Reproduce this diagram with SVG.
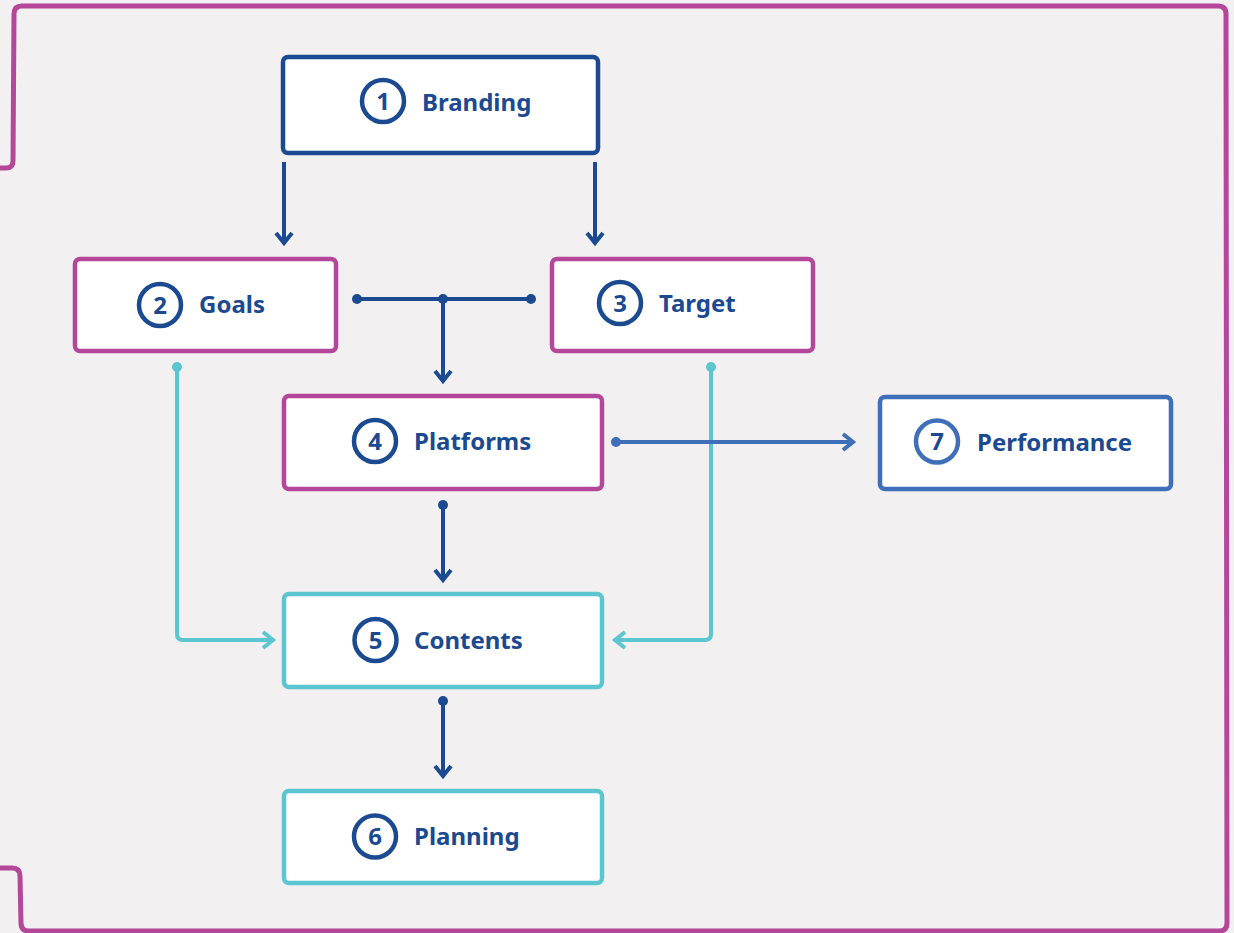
<svg xmlns="http://www.w3.org/2000/svg" width="1234" height="933" viewBox="0 0 1234 933">
<style>
.bg{fill:#f2f0f1}
.frame{fill:none;stroke:#b4479a;stroke-width:5;stroke-linejoin:round}
.box{fill:#ffffff;stroke-width:4.5}
.dark{stroke:#1b4a91}
.mag{stroke:#b4479a}
.cyan{stroke:#5bc6d0}
.mid{stroke:#3f6fb8}
.num{fill:none;stroke-width:4.5}
.lbl{font-family:"Noto Sans","Open Sans",sans-serif;font-weight:700;font-size:24px;fill:#1b4a91}
.nt{text-anchor:middle}
.ln{fill:none;stroke-width:4}
</style>
<defs>
<marker id="aDark" markerUnits="userSpaceOnUse" markerWidth="20" markerHeight="24" viewBox="0 0 20 24" refX="15" refY="12" orient="auto">
<path d="M4,4 L14,12 L4,20" fill="none" stroke="#1b4a91" stroke-width="4" stroke-linejoin="miter"/>
</marker>
<marker id="aCyan" markerUnits="userSpaceOnUse" markerWidth="20" markerHeight="24" viewBox="0 0 20 24" refX="15" refY="12" orient="auto">
<path d="M4,4 L14,12 L4,20" fill="none" stroke="#5bc6d0" stroke-width="4" stroke-linejoin="miter"/>
</marker>
<marker id="aMid" markerUnits="userSpaceOnUse" markerWidth="20" markerHeight="24" viewBox="0 0 20 24" refX="15" refY="12" orient="auto">
<path d="M4,4 L14,12 L4,20" fill="none" stroke="#3f6fb8" stroke-width="4" stroke-linejoin="miter"/>
</marker>
</defs>
<rect class="bg" x="0" y="0" width="1234" height="933"/>
<path class="frame" d="M0,168 L6,168 Q13,168 13,161 L14,14 Q14,6 22,6 L1218,6 Q1226,6 1226,14 L1227,923 Q1227,931 1219,931 L29,931 Q21,931 21,923 L20,876 Q20,868 12,868 L0,868"/>

<g id="connectors">
<line class="ln dark" x1="284" y1="162" x2="284" y2="244" marker-end="url(#aDark)"/>
<line class="ln dark" x1="595" y1="162" x2="595" y2="244" marker-end="url(#aDark)"/>
<line class="ln dark" x1="357" y1="299" x2="531" y2="299"/>
<line class="ln dark" x1="443" y1="299" x2="443" y2="382" marker-end="url(#aDark)"/>
<circle cx="357" cy="299" r="5" fill="#1b4a91"/>
<circle cx="531" cy="299" r="5" fill="#1b4a91"/>
<circle cx="443" cy="299" r="5" fill="#1b4a91"/>
<path class="ln cyan" d="M177,367 L177,634 Q177,640 183,640 L274,640" marker-end="url(#aCyan)" stroke-linejoin="round"/>
<circle cx="177" cy="367" r="5" fill="#5bc6d0"/>
<path class="ln cyan" d="M711,367 L711,634 Q711,640 705,640 L614,640" marker-end="url(#aCyan)"/>
<circle cx="711" cy="367" r="5" fill="#5bc6d0"/>
<line class="ln mid" x1="616" y1="442" x2="854" y2="442" marker-end="url(#aMid)"/>
<circle cx="616" cy="442" r="5" fill="#3f6fb8"/>
<line class="ln dark" x1="443" y1="505" x2="443" y2="581" marker-end="url(#aDark)"/>
<circle cx="443" cy="505" r="5" fill="#1b4a91"/>
<line class="ln dark" x1="443" y1="701" x2="443" y2="777" marker-end="url(#aDark)"/>
<circle cx="443" cy="701" r="5" fill="#1b4a91"/>
</g>

<g id="node1">
<rect class="box dark" x="283" y="57" width="315" height="96" rx="5"/>
<circle class="num dark" cx="383" cy="101" r="21"/>
<text class="lbl nt" x="383" y="109.5">1</text>
<text class="lbl" x="422" y="111">Branding</text>
</g>
<g id="node2">
<rect class="box mag" x="75" y="259" width="261" height="92" rx="5"/>
<circle class="num dark" cx="160" cy="305" r="21"/>
<text class="lbl nt" x="160" y="313.5">2</text>
<text class="lbl" x="199" y="313">Goals</text>
</g>
<g id="node3">
<rect class="box mag" x="552" y="259" width="261" height="92" rx="5"/>
<circle class="num dark" cx="620" cy="303" r="21"/>
<text class="lbl nt" x="620" y="311.5">3</text>
<text class="lbl" x="659" y="312">Target</text>
</g>
<g id="node4">
<rect class="box mag" x="284" y="396" width="318" height="93" rx="5"/>
<circle class="num dark" cx="375" cy="441" r="21"/>
<text class="lbl nt" x="375" y="449.5">4</text>
<text class="lbl" x="414" y="450">Platforms</text>
</g>
<g id="node5">
<rect class="box cyan" x="284" y="594" width="318" height="93" rx="5"/>
<circle class="num dark" cx="375.5" cy="640" r="21"/>
<text class="lbl nt" x="375.5" y="648.5">5</text>
<text class="lbl" x="414" y="649">Contents</text>
</g>
<g id="node6">
<rect class="box cyan" x="284" y="791" width="318" height="92" rx="5"/>
<circle class="num dark" cx="375" cy="836.5" r="21"/>
<text class="lbl nt" x="375" y="845">6</text>
<text class="lbl" x="414" y="845">Planning</text>
</g>
<g id="node7">
<rect class="box mid" x="880" y="397" width="291" height="92" rx="5"/>
<circle class="num mid" cx="937" cy="441.5" r="21"/>
<text class="lbl nt" x="937" y="450">7</text>
<text class="lbl" x="977" y="451">Performance</text>
</g>
</svg>
